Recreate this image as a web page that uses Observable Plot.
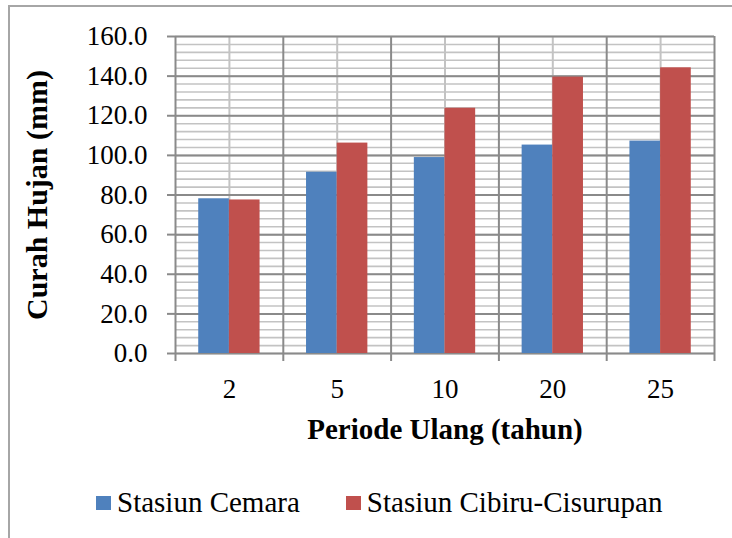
<!DOCTYPE html>
<html>
<head>
<meta charset="utf-8">
<script src="https://cdn.jsdelivr.net/npm/d3@7"></script>
<script src="https://cdn.jsdelivr.net/npm/@observablehq/plot@0.6"></script>
<style>
html, body { margin: 0; padding: 0; width: 732px; height: 538px; overflow: hidden; background: #fff; }
#wrap { position: relative; width: 732px; height: 538px; overflow: hidden; }
#border { position: absolute; left: 8px; top: 5px; width: 800px; height: 600px; border: 2px solid #a6a6a6; box-sizing: border-box; }
#chart { position: absolute; left: 0; top: 0; }
#legend { position: absolute; top: 488px; left: 96px; display: flex; align-items: center;
  font-family: "Liberation Serif", "Times New Roman", serif; font-size: 29px; line-height: 29px; color: #000; }
.item { display: flex; align-items: center; }
.sw { width: 15px; height: 14px; margin-right: 6px; }
</style>
</head>
<body>
<div id="wrap">
  <div id="border"></div>
  <div id="chart"></div>
  <div id="legend"></div>
</div>
<script>
// ---- data ----
const periode = ["2", "5", "10", "20", "25"];
const seriesNames = ["Stasiun Cemara", "Stasiun Cibiru-Cisurupan"];
const cemara = [78.1, 91.5, 98.9, 105.2, 107.2];
const cibiru = [77.5, 106.2, 123.8, 139.5, 144.2];
const colors = ["#4F81BD", "#C0504D"];
const yTicks = [0, 20, 40, 60, 80, 100, 120, 140, 160];
const yMinorTicks = [0, 4, 8, 12, 16, 20, 24, 28, 32, 36, 40, 44, 48, 52, 56, 60, 64, 68, 72, 76, 80,
  84, 88, 92, 96, 100, 104, 108, 112, 116, 120, 124, 128, 132, 136, 140, 144, 148, 152, 156, 160];
const xTitle = "Periode Ulang (tahun)";
const yTitle = "Curah Hujan (mm)";

// ---- layout ----
const W = 732, H = 450, ML = 175, MR = 18, MT = 36, MB = 97;
const bw = (W - ML - MR) / periode.length;
const barW = bw * 0.2845;
const groupPad = (bw - 2 * barW) / 2;
const major = "#8a8a8a", minor = "#c3c3c3";

const rows0 = periode.map((p, i) => ({periode: p, series: seriesNames[0], value: cemara[i]}));
const rows1 = periode.map((p, i) => ({periode: p, series: seriesNames[1], value: cibiru[i]}));

const chart = Plot.plot({
  width: W, height: H,
  marginLeft: ML, marginRight: MR, marginTop: MT, marginBottom: MB,
  style: {fontFamily: "'Liberation Serif', 'Times New Roman', serif", fontSize: "27px", color: "#000", background: "transparent", overflow: "visible"},
  x: {type: "band", domain: periode, padding: 0, round: false, label: null},
  y: {domain: [0, 160], label: null},
  color: {domain: seriesNames, range: colors},
  marks: [
    Plot.ruleY(yMinorTicks, {stroke: minor, strokeWidth: 1.6}),
    Plot.ruleX(periode, {x: d => d, stroke: minor, strokeWidth: 2}),
    Plot.ruleY(yTicks, {stroke: major, strokeWidth: 2}),
    Plot.ruleX(periode, {x: d => d, dx: -bw / 2, y1: -4, y2: 160, stroke: major, strokeWidth: 2}),
    Plot.ruleX(periode.slice(-1), {x: d => d, dx: bw / 2, y1: -4, y2: 160, stroke: major, strokeWidth: 2}),
    Plot.barY(rows0, {x: "periode", y: "value", fill: "series", insetLeft: groupPad, insetRight: bw - groupPad - barW}),
    Plot.barY(rows1, {x: "periode", y: "value", fill: "series", insetLeft: groupPad + barW, insetRight: groupPad}),
    Plot.axisY({ticks: yTicks, tickFormat: d => d.toFixed(1), tickSize: 8, tickPadding: 20, stroke: major, strokeWidth: 2, fontSize: 27, label: null}),
    Plot.axisX({tickSize: 0, tickPadding: 25, fontSize: 27, label: null}),
    Plot.text([yTitle], {frameAnchor: "left", textAnchor: "middle", lineAnchor: "middle", rotate: -90, dx: -138, fontWeight: "bold", fontSize: 30, fill: "#000"}),
    Plot.text([xTitle], {frameAnchor: "bottom", textAnchor: "middle", lineAnchor: "middle", dy: 76, fontWeight: "bold", fontSize: 29, fill: "#000"})
  ]
});
document.getElementById("chart").appendChild(chart);

// ---- legend ----
const legend = document.getElementById("legend");
seriesNames.forEach((name, i) => {
  const item = document.createElement("div");
  item.className = "item";
  if (i > 0) item.style.marginLeft = "46px";
  const sw = document.createElement("div");
  sw.className = "sw";
  sw.style.background = colors[i];
  const label = document.createElement("span");
  label.textContent = name;
  item.appendChild(sw);
  item.appendChild(label);
  legend.appendChild(item);
});
</script>
</body>
</html>
